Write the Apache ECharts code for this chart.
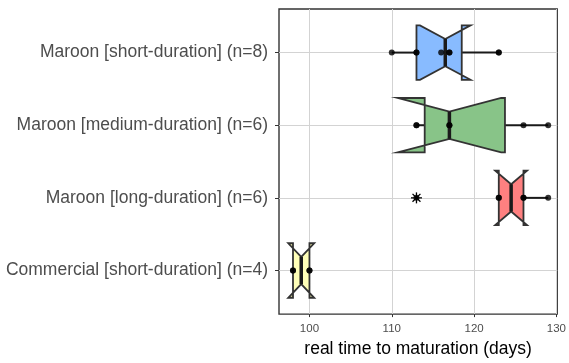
<!DOCTYPE html>
<html>
<head>
<meta charset="utf-8">
<script src="https://cdn.jsdelivr.net/npm/echarts@6/dist/echarts.min.js"></script>
<style>
  html, body { margin: 0; padding: 0; background: #fff; }
  #chart { width: 569px; height: 363px; }
</style>
</head>
<body>
<div id="chart"></div>
<script>
// groups, top to bottom
var categories = ['Maroon [short-duration] (n=8)', 'Maroon [medium-duration] (n=6)',
                  'Maroon [long-duration] (n=6)', 'Commercial [short-duration] (n=4)'];
// observations (days)
var maroonShort = [110, 113, 113, 116, 117, 117, 123, 123];
var maroonMedium = [113, 113, 117, 117, 126, 129];
var maroonLong = [113, 123, 123, 126, 126, 129];
var commercialShort = [98, 98, 100, 100];
var xTicks = [100, 110, 120, 130];
var fills = ['#88BBFF', '#88C488', '#FF8080', '#FFFFB8'];

var groups = [maroonShort, maroonMedium, maroonLong, commercialShort];

// quantile type 7 (R default)
function quantile(sorted, p) {
	var h = (sorted.length - 1) * p;
	var lo = Math.floor(h);
	var hi = Math.ceil(h);
	return sorted[lo] + (h - lo) * (sorted[hi] - sorted[lo]);
}

var boxData = [];
var pointData = [];
var outlierData = [];
groups.forEach(function (g, i) {
	var s = g.slice().sort(function (a, b) { return a - b; });
	var q1 = quantile(s, 0.25), med = quantile(s, 0.5), q3 = quantile(s, 0.75);
	var iqr = q3 - q1;
	var notch = 1.58 * iqr / Math.sqrt(s.length);
	var lowFence = q1 - 1.5 * iqr, highFence = q3 + 1.5 * iqr;
	var inside = s.filter(function (v) { return v >= lowFence && v <= highFence; });
	s.forEach(function (v) {
		if (v < lowFence || v > highFence) outlierData.push([v, i + 1]);
		pointData.push([v, i + 1]);
	});
	boxData.push([i + 1, q1, med, q3, med - notch, med + notch,
		inside[0], inside[inside.length - 1]]);
});

var myChart = echarts.init(document.getElementById('chart'));
var option = {
	animation: false,
	grid: {
		left: 279, right: 11, top: 9, bottom: 43,
		show: true, borderColor: '#333333', borderWidth: 1.4, backgroundColor: '#fff'
	},
	xAxis: {
		type: 'value',
		min: 96.3,
		max: 130.1,
		name: 'real time to maturation (days)',
		nameLocation: 'middle',
		nameGap: 22,
		nameTextStyle: { color: '#000', fontSize: 17.5, fontFamily: 'Liberation Sans' },
		axisLine: { show: false },
		axisTick: { show: true, length: 3, customValues: xTicks, lineStyle: { color: '#333' } },
		axisLabel: { customValues: xTicks, color: '#4D4D4D', fontSize: 11.5, margin: 9,
			fontFamily: 'Liberation Sans' },
		splitLine: { show: true, lineStyle: { color: '#D3D3D3', width: 1 } }
	},
	yAxis: {
		type: 'value',
		min: 0.4,
		max: 4.6,
		inverse: true,
		axisLine: { show: false },
		axisTick: { show: true, length: 4, customValues: [1, 2, 3, 4], lineStyle: { color: '#333' } },
		axisLabel: {
			customValues: [1, 2, 3, 4],
			color: '#4D4D4D', fontSize: 17.5, margin: 11, fontFamily: 'Liberation Sans',
			formatter: function (v) { return categories[Math.round(v) - 1]; }
		},
		splitLine: { show: true, lineStyle: { color: '#D3D3D3', width: 1 } }
	},
	series: [{
		type: 'custom',
		z: 2,
		data: boxData,
		encode: { x: [1, 2, 3, 4, 5, 6, 7], y: 0 },
		renderItem: function (params, api) {
			var yv = api.value(0);
			var cy = api.coord([0, yv])[1];
			var half = api.size([0, 1])[1] * 0.375;
			var px = function (d) { return api.coord([api.value(d), yv])[0]; };
			var q1 = px(1), med = px(2), q3 = px(3), nlo = px(4), nhi = px(5), wlo = px(6), whi = px(7);
			var top = cy - half, bot = cy + half, ntop = cy - half / 2, nbot = cy + half / 2;
			var stroke = '#333333';
			return {
				type: 'group',
				children: [
					{ type: 'line', shape: { x1: wlo, y1: cy, x2: q1, y2: cy }, style: { stroke: '#1a1a1a', lineWidth: 2 } },
					{ type: 'line', shape: { x1: q3, y1: cy, x2: whi, y2: cy }, style: { stroke: '#1a1a1a', lineWidth: 2 } },
					{
						type: 'polygon',
						shape: { points: [[q1, top], [nlo, top], [med, ntop], [nhi, top], [q3, top],
							[q3, bot], [nhi, bot], [med, nbot], [nlo, bot], [q1, bot]] },
						style: { fill: fills[params.dataIndex], stroke: stroke, lineWidth: 1.8, lineJoin: 'miter' }
					},
					{ type: 'line', shape: { x1: med, y1: ntop, x2: med, y2: nbot }, style: { stroke: '#1a1a1a', lineWidth: 3.5 } }
				]
			};
		}
	}, {
		type: 'scatter',
		z: 3,
		data: pointData,
		symbolSize: 6,
		itemStyle: { color: '#000' }
	}, {
		type: 'custom',
		z: 4,
		data: outlierData,
		encode: { x: 0, y: 1 },
		renderItem: function (params, api) {
			var p = api.coord([api.value(0), api.value(1)]);
			var r = 5.5, d = r * 0.72;
			var st = { stroke: '#000', lineWidth: 1.3 };
			return {
				type: 'group',
				children: [
					{ type: 'line', shape: { x1: p[0] - r, y1: p[1], x2: p[0] + r, y2: p[1] }, style: st },
					{ type: 'line', shape: { x1: p[0], y1: p[1] - r, x2: p[0], y2: p[1] + r }, style: st },
					{ type: 'line', shape: { x1: p[0] - d, y1: p[1] - d, x2: p[0] + d, y2: p[1] + d }, style: st },
					{ type: 'line', shape: { x1: p[0] - d, y1: p[1] + d, x2: p[0] + d, y2: p[1] - d }, style: st }
				]
			};
		}
	}]
};
myChart.setOption(option);
</script>
</body>
</html>
